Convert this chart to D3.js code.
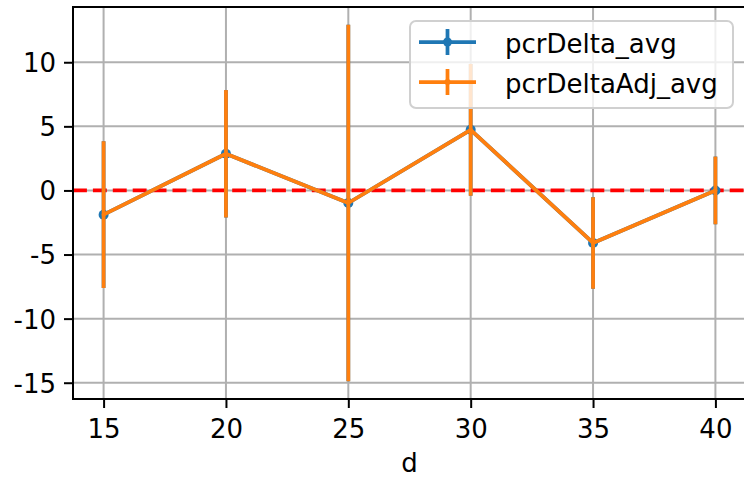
<!DOCTYPE html>
<html><head><meta charset="utf-8">
<script src="https://cdn.jsdelivr.net/npm/d3@7"></script>
<style>body{margin:0;background:#fff}svg{display:block;font-family:"DejaVu Sans",sans-serif}</style>
</head><body>
<svg id="c" width="744" height="478"></svg>
<script>
const dValues = [15, 20, 25, 30, 35, 40];
const pcrDeltaAvg = [-1.89, 2.86, -0.98, 4.73, -4.10, 0.0];
const pcrDeltaErr = [5.72, 4.97, 13.9, 5.14, 3.57, 2.64];
const pcrDeltaAdjAvg = [-1.89, 2.86, -0.98, 4.73, -4.10, 0.0];
const pcrDeltaAdjErr = [5.72, 4.97, 13.9, 5.14, 3.57, 2.64];
const xTicks = [15, 20, 25, 30, 35, 40];
const yTicks = [-15, -10, -5, 0, 5, 10];
const seriesNames = ["pcrDelta_avg", "pcrDeltaAdj_avg"];
const seriesColors = ["#1f77b4", "#ff7f0e"];

const FS = 26;
const svg = d3.select("#c");
const L = 73, R = 746, T = 7, B = 399;

const series = [
  {name: seriesNames[0], color: seriesColors[0], y: pcrDeltaAvg, e: pcrDeltaErr, r: 5},
  {name: seriesNames[1], color: seriesColors[1], y: pcrDeltaAdjAvg, e: pcrDeltaAdjErr, r: 2}
];

const xmin = d3.min(dValues), xmax = d3.max(dValues), xm = (xmax - xmin) * 0.05;
const x = d3.scaleLinear().domain([xmin - xm, xmax + xm]).range([L, R]);
let lo = Infinity, hi = -Infinity;
series.forEach(s => s.y.forEach((v, i) => { lo = Math.min(lo, v - s.e[i]); hi = Math.max(hi, v + s.e[i]); }));
const ym = (hi - lo) * 0.05;
const y = d3.scaleLinear().domain([lo - ym, hi + ym]).range([B, T]);

svg.append("defs").append("clipPath").attr("id", "clip")
  .append("rect").attr("x", L).attr("y", T).attr("width", R - L).attr("height", B - T);

// grid
const grid = svg.append("g").attr("stroke", "#b0b0b0").attr("stroke-width", 2);
xTicks.forEach(t => grid.append("line").attr("x1", x(t)).attr("x2", x(t)).attr("y1", T).attr("y2", B));
yTicks.forEach(t => grid.append("line").attr("x1", L).attr("x2", R).attr("y1", y(t)).attr("y2", y(t)));

const plot = svg.append("g").attr("clip-path", "url(#clip)");

// red dashed zero line (below series)
plot.append("line").attr("x1", L).attr("x2", R).attr("y1", y(0)).attr("y2", y(0))
  .attr("stroke", "red").attr("stroke-width", 3.75).attr("stroke-dasharray", "13.9,6");

const line = d3.line().x((d, i) => x(dValues[i])).y(d => y(d));

series.forEach(s => {
  const g = plot.append("g");
  s.y.forEach((v, i) => {
    g.append("line").attr("x1", x(dValues[i])).attr("x2", x(dValues[i]))
      .attr("y1", y(v - s.e[i])).attr("y2", y(v + s.e[i]))
      .attr("stroke", s.color).attr("stroke-width", 3.75);
  });
  g.append("path").datum(s.y).attr("d", line).attr("fill", "none")
    .attr("stroke", s.color).attr("stroke-width", 3.75).attr("stroke-linejoin", "round");
  s.y.forEach((v, i) => {
    g.append("circle").attr("cx", x(dValues[i])).attr("cy", y(v)).attr("r", s.r).attr("fill", s.color);
  });
});

// spines
const sp = svg.append("g").attr("stroke", "#000").attr("stroke-width", 2).attr("fill", "none");
sp.append("line").attr("x1", L).attr("x2", L).attr("y1", T - 1).attr("y2", B + 1);
sp.append("line").attr("x1", L - 1).attr("x2", R).attr("y1", T).attr("y2", T);
sp.append("line").attr("x1", L - 1).attr("x2", R).attr("y1", B).attr("y2", B);
sp.append("line").attr("x1", R).attr("x2", R).attr("y1", T).attr("y2", B);

// axes
const xAxis = svg.append("g").attr("transform", `translate(0,${B})`)
  .call(d3.axisBottom(x).tickValues(xTicks).tickSize(9).tickPadding(8).tickFormat(d3.format("d")));
const yAxis = svg.append("g").attr("transform", `translate(${L},0)`)
  .call(d3.axisLeft(y).tickValues(yTicks).tickSize(9).tickPadding(8).tickFormat(d => String(d)));
[xAxis, yAxis].forEach(a => {
  a.select(".domain").remove();
  a.selectAll(".tick line").attr("stroke", "#000").attr("stroke-width", 2);
  a.selectAll(".tick text").attr("fill", "#000").attr("font-size", FS).attr("font-family", "DejaVu Sans");
});
xAxis.selectAll(".tick text").attr("dy", null).attr("y", 39);
yAxis.selectAll(".tick text").attr("dy", "0.36em");

svg.append("text").attr("x", (L + R) / 2).attr("y", 472).attr("text-anchor", "middle")
  .attr("font-size", FS).attr("fill", "#000").text("d");

// legend
const lg = svg.append("g");
lg.append("rect").attr("x", 410).attr("y", 21).attr("width", 323).attr("height", 87).attr("rx", 6)
  .attr("fill", "#fff").attr("fill-opacity", 0.8).attr("stroke", "#d0d0d0").attr("stroke-width", 2);
series.forEach((s, i) => {
  const cy = 42 + i * 40;
  lg.append("line").attr("x1", 419).attr("x2", 476).attr("y1", cy).attr("y2", cy)
    .attr("stroke", s.color).attr("stroke-width", 3.75);
  lg.append("line").attr("x1", 447.5).attr("x2", 447.5).attr("y1", cy - 13).attr("y2", cy + 13)
    .attr("stroke", s.color).attr("stroke-width", 3.75);
  lg.append("circle").attr("cx", 447.5).attr("cy", cy).attr("r", i === 0 ? 4.5 : 3).attr("fill", s.color);
  lg.append("text").attr("x", 505).attr("y", cy + 11).attr("font-size", FS).attr("fill", "#000").text(s.name);
});
</script>
</body></html>
